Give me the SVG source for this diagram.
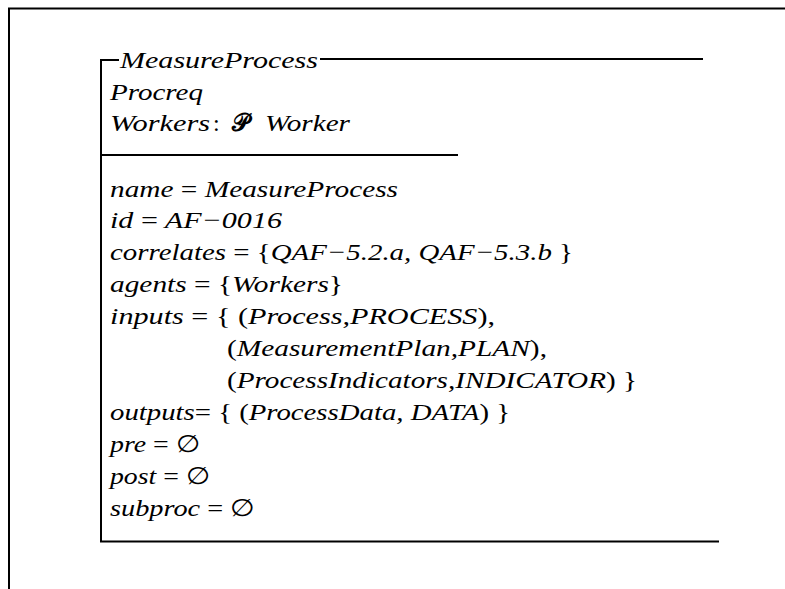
<svg xmlns="http://www.w3.org/2000/svg" width="785" height="589" viewBox="0 0 785 589">
<style>
.t{font-family:'Liberation Serif','Times New Roman','DejaVu Serif',serif;font-style:italic;font-size:24px;fill:#000}
.r{font-style:normal}
.ln{fill:none;stroke:#000;stroke-width:2}
</style>
<rect width="785" height="589" fill="#fff"/>
<g id="frame">
<path class="ln" d="M9,589 V8.5 H785" stroke-width="1.8"/>
</g>
<g id="schema">
<path class="ln" d="M119,60 H101 V541.5 H719"/>
<path class="ln" d="M320,59 H703"/>
<path class="ln" d="M101,155 H458"/>
<text class="t" x="120" y="68" textLength="198" lengthAdjust="spacingAndGlyphs">MeasureProcess</text>
<text class="t" x="110" y="100" textLength="93" lengthAdjust="spacingAndGlyphs">Procreq</text>
<text class="t" x="110" y="131" textLength="100" lengthAdjust="spacingAndGlyphs">Workers</text>
<text class="t r" x="213" y="131">:</text>
<text class="t r" x="232" y="131" font-weight="bold">𝒫</text>
<text class="t" x="265" y="131" textLength="85" lengthAdjust="spacingAndGlyphs">Worker</text>
<text class="t" x="110" y="197" textLength="288" lengthAdjust="spacingAndGlyphs">name <tspan class="r">=</tspan> MeasureProcess</text>
<text class="t" x="110" y="228" textLength="172" lengthAdjust="spacingAndGlyphs">id <tspan class="r">=</tspan> AF−0016</text>
<text class="t" x="110" y="260" textLength="463" lengthAdjust="spacingAndGlyphs">correlates <tspan class="r">= {</tspan>QAF−5.2.a, QAF−5.3.b <tspan class="r">}</tspan></text>
<text class="t" x="110" y="292" textLength="233" lengthAdjust="spacingAndGlyphs">agents <tspan class="r">= {</tspan>Workers<tspan class="r">}</tspan></text>
<text class="t" x="110" y="324" textLength="385" lengthAdjust="spacingAndGlyphs">inputs <tspan class="r">= { (</tspan>Process,PROCESS<tspan class="r">),</tspan></text>
<text class="t" x="227" y="356" textLength="320" lengthAdjust="spacingAndGlyphs"><tspan class="r">(</tspan>MeasurementPlan,PLAN<tspan class="r">),</tspan></text>
<text class="t" x="227" y="388" textLength="410" lengthAdjust="spacingAndGlyphs"><tspan class="r">(</tspan>ProcessIndicators,INDICATOR<tspan class="r">) }</tspan></text>
<text class="t" x="110" y="420" textLength="400" lengthAdjust="spacingAndGlyphs">outputs<tspan class="r">= { (</tspan>ProcessData, DATA<tspan class="r">) }</tspan></text>
<text class="t" x="110" y="452" textLength="90" lengthAdjust="spacingAndGlyphs">pre <tspan class="r">= ∅</tspan></text>
<text class="t" x="110" y="484" textLength="100" lengthAdjust="spacingAndGlyphs">post <tspan class="r">= ∅</tspan></text>
<text class="t" x="110" y="516" textLength="145" lengthAdjust="spacingAndGlyphs">subproc <tspan class="r">= ∅</tspan></text>
</g>
</svg>
